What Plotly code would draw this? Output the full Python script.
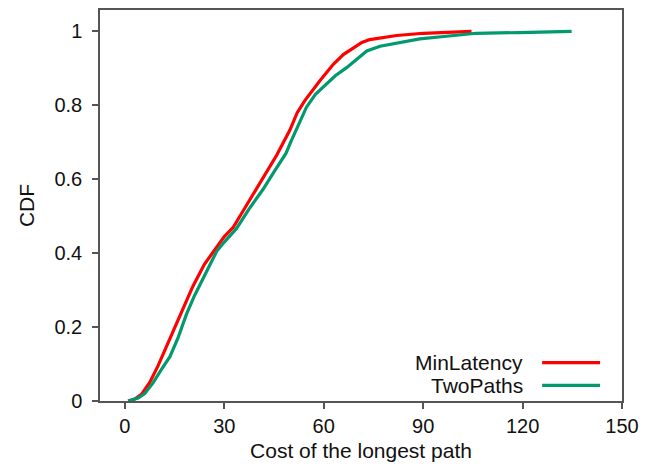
import plotly.graph_objects as go

# MinLatency CDF
min_x = [1, 3, 5, 7.5, 10, 13.5, 17, 20.5, 24, 27.2, 30, 32.7, 36, 39.7, 42.5, 45.8,
         49.8, 52, 54.3, 56.5, 58.9, 62.9, 66, 68.9, 71.5, 73.9, 77, 82, 90, 98, 104.6]
min_y = [0.0, 0.005, 0.018, 0.05, 0.095, 0.165, 0.24, 0.31, 0.37, 0.41, 0.445, 0.47, 0.52,
         0.575, 0.615, 0.665, 0.733, 0.78, 0.813, 0.84, 0.867, 0.911, 0.938, 0.955, 0.97,
         0.978, 0.982, 0.989, 0.995, 0.997, 1.0]

# TwoPaths CDF
two_x = [1, 4, 6, 8.5, 11, 13.6, 16, 18.6, 21, 23.6, 27.7, 30, 33.7, 37.5, 41.7, 45, 48.6,
         50, 51.8, 54.8, 57.5, 60.9, 63.5, 66.9, 70, 73, 77, 83, 89, 97, 106, 119, 134.8]
two_y = [0.0, 0.008, 0.02, 0.049, 0.085, 0.12, 0.17, 0.235, 0.285, 0.333, 0.405, 0.43,
         0.467, 0.52, 0.573, 0.62, 0.67, 0.70, 0.735, 0.795, 0.83, 0.858, 0.88, 0.902,
         0.925, 0.947, 0.96, 0.971, 0.98, 0.987, 0.995, 0.997, 1.0]

x_ticks = [0, 30, 60, 90, 120, 150]
y_ticks = [0, 0.2, 0.4, 0.6, 0.8, 1]
y_tick_text = ["0", "0.2", "0.4", "0.6", "0.8", "1"]

series_names = ["MinLatency", "TwoPaths"]
series_colors = ["#ff0000", "#009a6e"]

FONT = "Liberation Sans, Arial, sans-serif"

fig = go.Figure()
fig.add_trace(go.Scatter(x=min_x, y=min_y, mode="lines", name=series_names[0],
                         line=dict(color=series_colors[0], width=3.2), showlegend=False))
fig.add_trace(go.Scatter(x=two_x, y=two_y, mode="lines", name=series_names[1],
                         line=dict(color=series_colors[1], width=3.2), showlegend=False))

# custom legend: text on the left, line sample on the right
legend_y = [0.098, 0.040]
for name, color, ly in zip(series_names, series_colors, legend_y):
    fig.add_annotation(xref="paper", yref="paper", x=0.814, y=ly, text=name,
                       showarrow=False, xanchor="right", yanchor="middle",
                       font=dict(family=FONT, size=21, color="#111111"))
    fig.add_shape(type="line", xref="paper", yref="paper", x0=0.847, x1=0.958,
                  y0=ly, y1=ly, line=dict(color=color, width=3.2))

axis_common = dict(showgrid=False, zeroline=False, showline=True, mirror=True,
                   linecolor="#555555", linewidth=1.5, ticks="outside", ticklen=6,
                   tickcolor="#555555", tickwidth=1.5,
                   tickfont=dict(family=FONT, size=20, color="#111111"))

fig.update_xaxes(range=[-7.5, 150], tickvals=x_ticks,
                 title=dict(text="Cost of the longest path", standoff=8,
                            font=dict(family=FONT, size=21, color="#111111")),
                 **axis_common)
fig.update_yaxes(range=[0, 1.058], tickvals=y_ticks, ticktext=y_tick_text,
                 ticklabelstandoff=6,
                 title=dict(text="CDF", standoff=14,
                            font=dict(family=FONT, size=21, color="#111111")),
                 **axis_common)

fig.update_layout(width=652, height=467, margin=dict(l=100, r=30, t=8, b=62),
                  plot_bgcolor="white", paper_bgcolor="white")

fig.write_html("out.html")
